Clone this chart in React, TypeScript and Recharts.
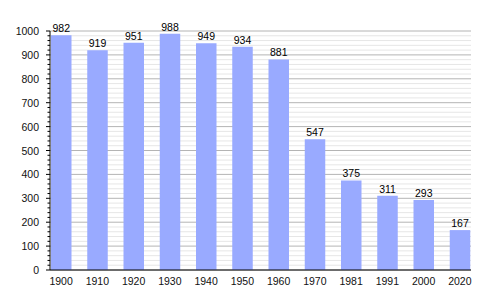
import { Bar, BarChart, CartesianGrid, LabelList, XAxis, YAxis } from "recharts";

const YEARS = ["1900", "1910", "1920", "1930", "1940", "1950", "1960", "1970", "1981", "1991", "2000", "2020"];
const POPULATION = [982, 919, 951, 988, 949, 934, 881, 547, 375, 311, 293, 167];
const Y_TICKS = Array.from({ length: 51 }, (_, i) => i * 20);

const BAR = "#99aaff";
const MAJOR = "#b4b4b4";
const MINOR = "#e6e6e6";
const FONT = "'Liberation Sans', Arial, sans-serif";

const data = YEARS.map((year, i) => ({ year, value: POPULATION[i] }));

function YTick(props: any) {
  const { x, y, payload } = props;
  const major = payload.value % 100 === 0;
  return (
    <g>
      <line x1={x - (major ? 4 : 2.5)} x2={x} y1={y} y2={y} stroke="#000" />
      {major && (
        <text x={x - 11} y={y} dy={4} textAnchor="end" fontSize={10.5} fill="#111" fontFamily={FONT}>
          {payload.value}
        </text>
      )}
    </g>
  );
}

// major lines every 100, light ones every 20
function GridLine(props: any) {
  const { x1, x2, y1, y2, index } = props;
  return <line x1={x1} x2={x2} y1={y1} y2={y2} stroke={index % 5 === 0 ? MAJOR : MINOR} />;
}

export default function App() {
  return (
    <div style={{ position: "absolute", left: 0, top: 0, background: "#fff" }}>
      <BarChart
        width={500}
        height={300}
        data={data}
        margin={{ top: 31, right: 29, left: 0, bottom: 0 }}
        barSize={20.5}
      >
        <CartesianGrid vertical={false} horizontal={(p: any) => <GridLine {...p} />} />
        <XAxis
          dataKey="year"
          height={30}
          padding={{ left: -7, right: -7 }}
          axisLine={{ stroke: "#000" }}
          tickLine={false}
          tick={{ fontSize: 10.5, fill: "#111", fontFamily: FONT }}
          tickMargin={2}
          interval={0}
        />
        <YAxis
          width={50}
          domain={[0, 1000]}
          ticks={Y_TICKS}
          interval={0}
          axisLine={{ stroke: "#000" }}
          tickLine={false}
          tickSize={0}
          tickMargin={0}
          tick={<YTick />}
        />
        <Bar dataKey="value" fill={BAR} isAnimationActive={false}>
          <LabelList dataKey="value" position="top" offset={3} fontSize={10.5} fill="#000" fontFamily={FONT} />
        </Bar>
      </BarChart>
    </div>
  );
}
